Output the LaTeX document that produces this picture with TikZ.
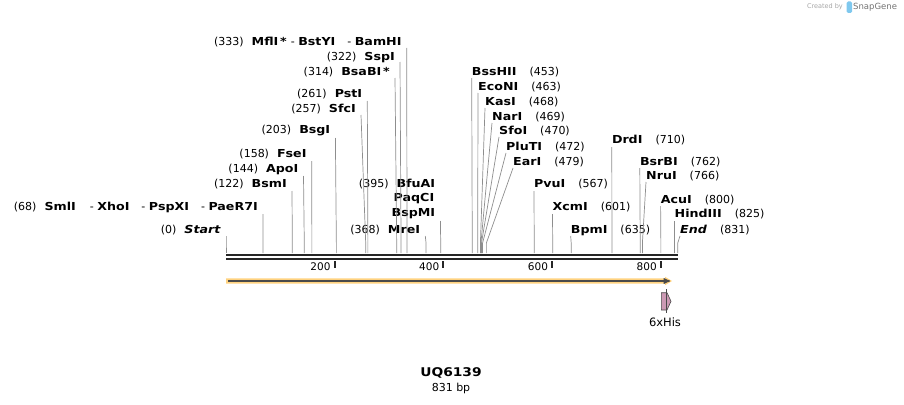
\documentclass[tikz,border=0pt]{standalone}
\usepackage{fontspec}
\setmainfont{DejaVu Sans}[BoldFeatures={FakeStretch=1.15},BoldItalicFeatures={FakeStretch=1.15}]
\usetikzlibrary{arrows}

\definecolor{cutgray}{HTML}{8E8E8E}
\definecolor{bbone}{HTML}{262626}
\definecolor{featorange}{HTML}{FFD27F}
\definecolor{featline}{HTML}{4A4A4A}
\definecolor{hispink}{HTML}{CC99B4}
\definecolor{sgblue}{HTML}{7FC8EE}

\begin{document}
\begin{tikzpicture}[x=1pt,y=-1pt,>=stealth',
    lbl/.style={inner sep=0pt,font=\fontsize{11}{13}\selectfont},
    lft/.style={lbl,anchor=east},
    rgt/.style={lbl,anchor=west},
    cut/.style={draw=cutgray,line width=0.7pt},
    tick/.style={draw=bbone,line width=2pt}]
    \useasboundingbox (0,0) rectangle (904,404);

    % sites on the backbone
    \foreach \p in {0,68,122,144,158,203,257,261,314,322,333,368,395,
                    453,463,468,469,470,472,479,567,601,635,710,762,766,800,825,831}
      \coordinate (s\p) at (226+0.5436*\p,253);

    % backbone and scale
    \draw[bbone,line width=2.3pt] (226,255.2) -- (677.7,255.2);
    \draw[bbone,line width=2.3pt] (226,259.2) -- (677.7,259.2);
    \foreach \p in {200,400,600,800} {
      \draw[tick] (226+0.5436*\p,261) -- ++(0,7);
      \node[lbl,anchor=east,font=\fontsize{10.5}{12}\selectfont] (t\p) at (222+0.5436*\p,267) {\p};
    }

    % labels left of their site
    \node[lft] (start)  at (221,230)   {(0)\hspace{8pt}\textbf{\textit{Start}}};
    \node[lft] (smli)   at (258,207)   {(68)\hspace{8pt}\textbf{SmlI}\hspace{14pt}- \textbf{XhoI}\hspace{12pt}- \textbf{PspXI}\hspace{12pt}- \textbf{PaeR7I}};
    \node[lft] (bsmi)   at (287,184)   {(122)\hspace{8pt}\textbf{BsmI}};
    \node[lft] (apoi)   at (298.5,169) {(144)\hspace{8pt}\textbf{ApoI}};
    \node[lft] (fsei)   at (306.7,154) {(158)\hspace{8pt}\textbf{FseI}};
    \node[lft] (bsgi)   at (330.4,131) {(203)\hspace{8pt}\textbf{BsgI}};
    \node[lft] (sfci)   at (356,109)   {(257)\hspace{8pt}\textbf{SfcI}};
    \node[lft] (psti)   at (362.3,94)  {(261)\hspace{8pt}\textbf{PstI}};
    \node[lft] (bsabi)  at (390,72)    {(314)\hspace{8pt}\textbf{BsaBI\,*}};
    \node[lft] (sspi)   at (395,57)    {(322)\hspace{8pt}\textbf{SspI}};
    \node[lft] (mfli)   at (401.7,42)  {(333)\hspace{8pt}\textbf{MflI\,*}\hspace{4pt}- \textbf{BstYI}\hspace{12pt}- \textbf{BamHI}};
    \node[lft] (mrei)   at (420.3,230) {(368)\hspace{8pt}\textbf{MreI}};
    \node[lft] (bfuai)  at (435.4,184) {(395)\hspace{8pt}\textbf{BfuAI}};
    \node[lft] (paqci)  at (434.4,199) {\textbf{PaqCI}};
    \node[lft] (bspmi)  at (435.4,214) {\textbf{BspMI}};

    % labels right of their site
    \node[rgt] (bsshii) at (471.7,72)  {\textbf{BssHII}\hspace{13pt}(453)};
    \node[rgt] (econi)  at (478,87)    {\textbf{EcoNI}\hspace{13pt}(463)};
    \node[rgt] (kasi)   at (485,102)   {\textbf{KasI}\hspace{13pt}(468)};
    \node[rgt] (nari)   at (492,117)   {\textbf{NarI}\hspace{13pt}(469)};
    \node[rgt] (sfoi)   at (499,131)   {\textbf{SfoI}\hspace{13pt}(470)};
    \node[rgt] (pluti)  at (506,147)   {\textbf{PluTI}\hspace{13pt}(472)};
    \node[rgt] (eari)   at (513,162)   {\textbf{EarI}\hspace{13pt}(479)};
    \node[rgt] (pvui)   at (534,184)   {\textbf{PvuI}\hspace{13pt}(567)};
    \node[rgt] (xcmi)   at (552.5,207) {\textbf{XcmI}\hspace{13pt}(601)};
    \node[rgt] (bpmi)   at (570.7,230) {\textbf{BpmI}\hspace{13pt}(635)};
    \node[rgt] (drdi)   at (611.8,140) {\textbf{DrdI}\hspace{13pt}(710)};
    \node[rgt] (bsrbi)  at (639.8,162) {\textbf{BsrBI}\hspace{13pt}(762)};
    \node[rgt] (nrui)   at (646,176)   {\textbf{NruI}\hspace{13pt}(766)};
    \node[rgt] (acui)   at (660.6,200) {\textbf{AcuI}\hspace{13pt}(800)};
    \node[rgt] (hindiii) at (674.5,214) {\textbf{HindIII}\hspace{13pt}(825)};
    \node[rgt] (end)    at (680,230)   {\textbf{\textit{End}}\hspace{13pt}(831)};

    % cut lines
    \draw[cut] ([shift={(5,6)}]start.east) -- ([yshift=10pt]s0) -- (s0);
    \draw[cut] ([shift={(5,7)}]smli.east)  -- ([yshift=10pt]s68) -- (s68);
    \draw[cut] ([shift={(5,7)}]bsmi.east)  -- ([yshift=10pt]s122) -- (s122);
    \draw[cut] ([shift={(5,7)}]apoi.east)  -- ([yshift=10pt]s144) -- (s144);
    \draw[cut] ([shift={(5,7)}]fsei.east)  -- ([yshift=10pt]s158) -- (s158);
    \draw[cut] ([shift={(5,7)}]bsgi.east)  -- ([yshift=10pt]s203) -- (s203);
    \draw[cut] ([shift={(5,6)}]sfci.east)  -- ([yshift=10pt]s257) -- (s257);
    \draw[cut] ([shift={(5,7)}]psti.east)  -- ([yshift=10pt]s261) -- (s261);
    \draw[cut] ([shift={(5,6)}]bsabi.east) -- ([yshift=10pt]s314) -- (s314);
    \draw[cut] ([shift={(5,5)}]sspi.east)  -- ([yshift=10pt]s322) -- (s322);
    \draw[cut] ([shift={(5,6)}]mfli.east)  -- ([yshift=10pt]s333) -- (s333);
    \draw[cut] ([shift={(5,6)}]mrei.east)  -- ([yshift=10pt]s368) -- (s368);
    \draw[cut] ([shift={(5,7)}]bspmi.east) -- ([yshift=10pt]s395) -- (s395);
    \draw[cut] ([yshift=-6pt]bsshii.west) -- ([yshift=10pt]s453) -- (s453);
    \draw[cut] ([yshift=-6pt]econi.west)  -- ([yshift=10pt]s463) -- (s463);
    \draw[cut] ([yshift=-6pt]kasi.west)   -- ([yshift=10pt]s468) -- (s468);
    \draw[cut] ([yshift=-6pt]nari.west)   -- ([yshift=10pt]s469) -- (s469);
    \draw[cut] ([yshift=-6pt]sfoi.west)   -- ([yshift=10pt]s470) -- (s470);
    \draw[cut] ([yshift=-6pt]pluti.west)  -- ([yshift=10pt]s472) -- (s472);
    \draw[cut] ([yshift=-6pt]eari.west)   -- ([yshift=10pt]s479) -- (s479);
    \draw[cut] ([yshift=-7pt]pvui.west)   -- ([yshift=10pt]s567) -- (s567);
    \draw[cut] ([yshift=-7pt]xcmi.west)   -- ([yshift=10pt]s601) -- (s601);
    \draw[cut] ([yshift=-6pt]bpmi.west)   -- ([yshift=10pt]s635) -- (s635);
    \draw[cut] ([yshift=-7pt]drdi.west)   -- ([yshift=10pt]s710) -- (s710);
    \draw[cut] ([yshift=-6pt]bsrbi.west)  -- ([yshift=10pt]s762) -- (s762);
    \draw[cut] ([yshift=-6pt]nrui.west)   -- ([yshift=10pt]s766) -- (s766);
    \draw[cut] ([yshift=-6pt]acui.west)   -- ([yshift=10pt]s800) -- (s800);
    \draw[cut] ([yshift=-7pt]hindiii.west) -- ([yshift=10pt]s825) -- (s825);
    \draw[cut] ([yshift=-6pt]end.west)    -- ([yshift=10pt]s831) -- (s831);

    % feature bar and 6xHis
    \fill[featorange] (226,278.3) -- (665,278.3) -- (665,276.8) -- (672,281) -- (665,285.2)
      -- (665,283.7) -- (226,283.7) -- cycle;
    \draw[featline,line width=1.3pt,->] (228,281) -- (670,281);
    \filldraw[fill=hispink,draw=featline,line width=0.6pt] (661.3,292.7) -- (667,292.7)
      -- (671,301.3) -- (667,310) -- (661.3,310) -- cycle;
    \draw[featline,line width=0.6pt] (666.7,289) -- (666.7,313);
    \node[lbl,font=\fontsize{11.5}{13}\selectfont] (his) at (665,322) {6xHis};

    % title
    \node[lbl,font=\bfseries\fontsize{12}{14}\selectfont] (title) at (451,373) {UQ6139};
    \node[lbl] (len) at (451,388) {831 bp};

    % credit
    \node[lbl,anchor=east,text=black!35,font=\fontsize{6.5}{8}\selectfont] (made) at (843,7) {Created by};
    \fill[sgblue,rounded corners=1.5pt] (846.5,1.5) rectangle (852,13);
    \node[lbl,anchor=west,text=black!55,font=\fontsize{8.5}{10}\selectfont] (sg) at (853,7) {SnapGene};
\end{tikzpicture}
\end{document}
